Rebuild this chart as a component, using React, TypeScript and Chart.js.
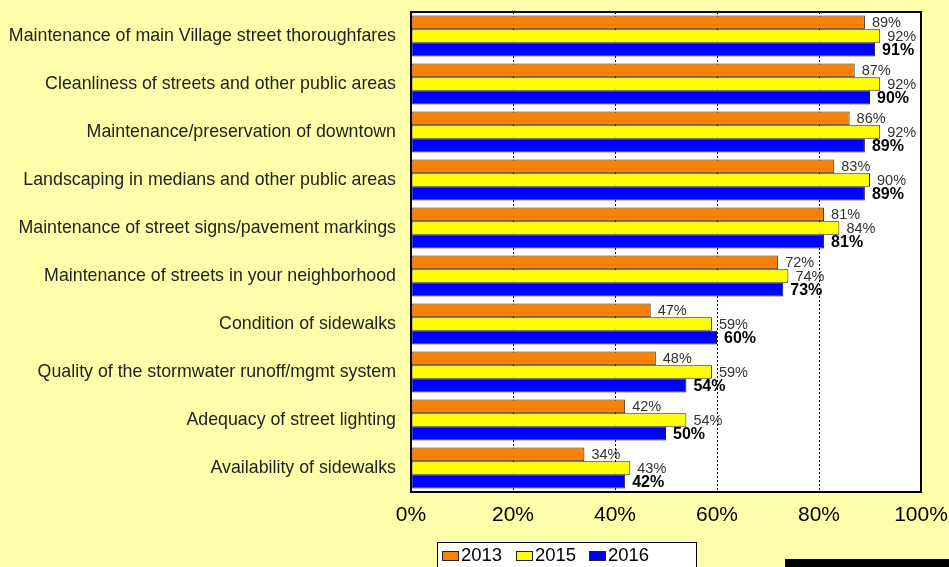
import React, { useEffect, useRef } from "react";
import { Chart, registerables } from "chart.js";

Chart.register(...registerables);

const categories = [
  "Maintenance of main Village street thoroughfares",
  "Cleanliness of streets and other public areas",
  "Maintenance/preservation of downtown",
  "Landscaping in medians and other public areas",
  "Maintenance of street signs/pavement markings",
  "Maintenance of streets in your neighborhood",
  "Condition of sidewalks",
  "Quality of the stormwater runoff/mgmt system",
  "Adequacy of street lighting",
  "Availability of sidewalks",
];
const seriesNames = ["2013", "2015", "2016"];
const values2013 = [89, 87, 86, 83, 81, 72, 47, 48, 42, 34];
const values2015 = [92, 92, 92, 90, 84, 74, 59, 59, 54, 43];
const values2016 = [91, 90, 89, 89, 81, 73, 60, 54, 50, 42];
const xTicks = [0, 20, 40, 60, 80, 100];

const FONT = "'Liberation Sans', Arial, sans-serif";
const BG = "#FFFFAA";

const bgPlugin = {
  id: "bgPlugin",
  beforeDraw(chart: any) {
    const { ctx, chartArea: a } = chart;
    ctx.save();
    ctx.fillStyle = BG;
    ctx.fillRect(0, 0, chart.width, chart.height);
    ctx.fillStyle = "#ffffff";
    ctx.fillRect(a.left, a.top, a.right - a.left, a.bottom - a.top);
    ctx.restore();
  },
};

const labelPlugin = {
  id: "labelPlugin",
  afterDatasetsDraw(chart: any) {
    const { ctx, chartArea: a } = chart;
    ctx.save();
    chart.data.datasets.forEach((ds: any, di: number) => {
      const meta = chart.getDatasetMeta(di);
      const bold = di === 2;
      ctx.font = bold ? `bold 16px ${FONT}` : `14.5px ${FONT}`;
      ctx.fillStyle = bold ? "#000000" : "#333333";
      ctx.textAlign = "left";
      ctx.textBaseline = "middle";
      meta.data.forEach((el: any, i: number) => {
        ctx.fillText(ds.data[i] + "%", el.x + 7, el.y + 1);
      });
    });
    ctx.strokeStyle = "#000000";
    ctx.lineWidth = 2;
    ctx.strokeRect(a.left, a.top, a.right - a.left, a.bottom - a.top);
    ctx.restore();
  },
};

const legendPlugin = {
  id: "legendPlugin",
  afterDraw(chart: any) {
    const { ctx } = chart;
    ctx.save();
    ctx.fillStyle = "#ffffff";
    ctx.fillRect(437, 542, 259, 30);
    ctx.strokeStyle = "#000000";
    ctx.lineWidth = 1;
    ctx.strokeRect(437.5, 542.5, 259, 30);
    const swX = [442, 516, 589];
    ctx.font = `18.5px ${FONT}`;
    ctx.textBaseline = "middle";
    ctx.textAlign = "left";
    chart.data.datasets.forEach((ds: any, i: number) => {
      ctx.fillStyle = ds.backgroundColor;
      ctx.fillRect(swX[i], 551, 17, 10);
      ctx.strokeStyle = "#222";
      ctx.strokeRect(swX[i] + 0.5, 551.5, 16, 9);
      ctx.fillStyle = "#000";
      ctx.fillText(seriesNames[i], swX[i] + 19, 556);
    });
    ctx.fillStyle = "#000000";
    ctx.fillRect(785, 559, 164, 8);
    ctx.restore();
  },
};

export default function App() {
  const ref = useRef<HTMLCanvasElement>(null);
  useEffect(() => {
    if (!ref.current) return;
    const colors = ["#FF8000", "#FFFF00", "#0000FF"];
    const vals = [values2013, values2015, values2016];
    const chart = new Chart(ref.current, {
      type: "bar",
      data: {
        labels: categories,
        datasets: seriesNames.map((n, i) => ({
          label: n,
          data: vals[i],
          backgroundColor: colors[i],
          borderColor: "#222222",
          borderWidth: 1,
          borderSkipped: false,
          categoryPercentage: 0.855,
          barPercentage: 1.0,
        })),
      },
      options: {
        indexAxis: "y",
        responsive: false,
        animation: false,
        devicePixelRatio: 1,
        layout: { padding: { top: 12, right: 28, left: 0, bottom: 0 } },
        plugins: { legend: { display: false }, tooltip: { enabled: false } },
        scales: {
          x: {
            min: 0,
            max: 100,
            afterBuildTicks(scale: any) {
              scale.ticks = xTicks.map((v) => ({ value: v }));
            },
            afterFit(scale: any) {
              scale.height = 75;
              scale.paddingLeft = 0;
              scale.paddingRight = 0;
            },
            border: { display: false, dash: [2, 2] },
            grid: {
              color: "#000000",
              lineWidth: 1,
              drawTicks: false,
            },
            ticks: {
              padding: 11,
              color: "#000000",
              font: { family: FONT, size: 21 },
              callback: (v: any) => v + "%",
              maxRotation: 0,
            },
          } as any,
          y: {
            afterFit(scale: any) {
              scale.width = 411;
              scale.paddingTop = 0;
              scale.paddingBottom = 0;
            },
            border: { display: false },
            grid: { display: false, drawTicks: false },
            ticks: {
              padding: 15,
              color: "#222222",
              font: { family: FONT, size: 17.8 },
              autoSkip: false,
            },
          } as any,
        },
      },
      plugins: [bgPlugin, labelPlugin, legendPlugin],
    });
    return () => chart.destroy();
  }, []);
  return (
    <div style={{ position: "absolute", left: 0, top: 0, width: 949, height: 567 }}>
      <canvas ref={ref} width={949} height={567} style={{ width: 949, height: 567, display: "block" }} />
    </div>
  );
}
